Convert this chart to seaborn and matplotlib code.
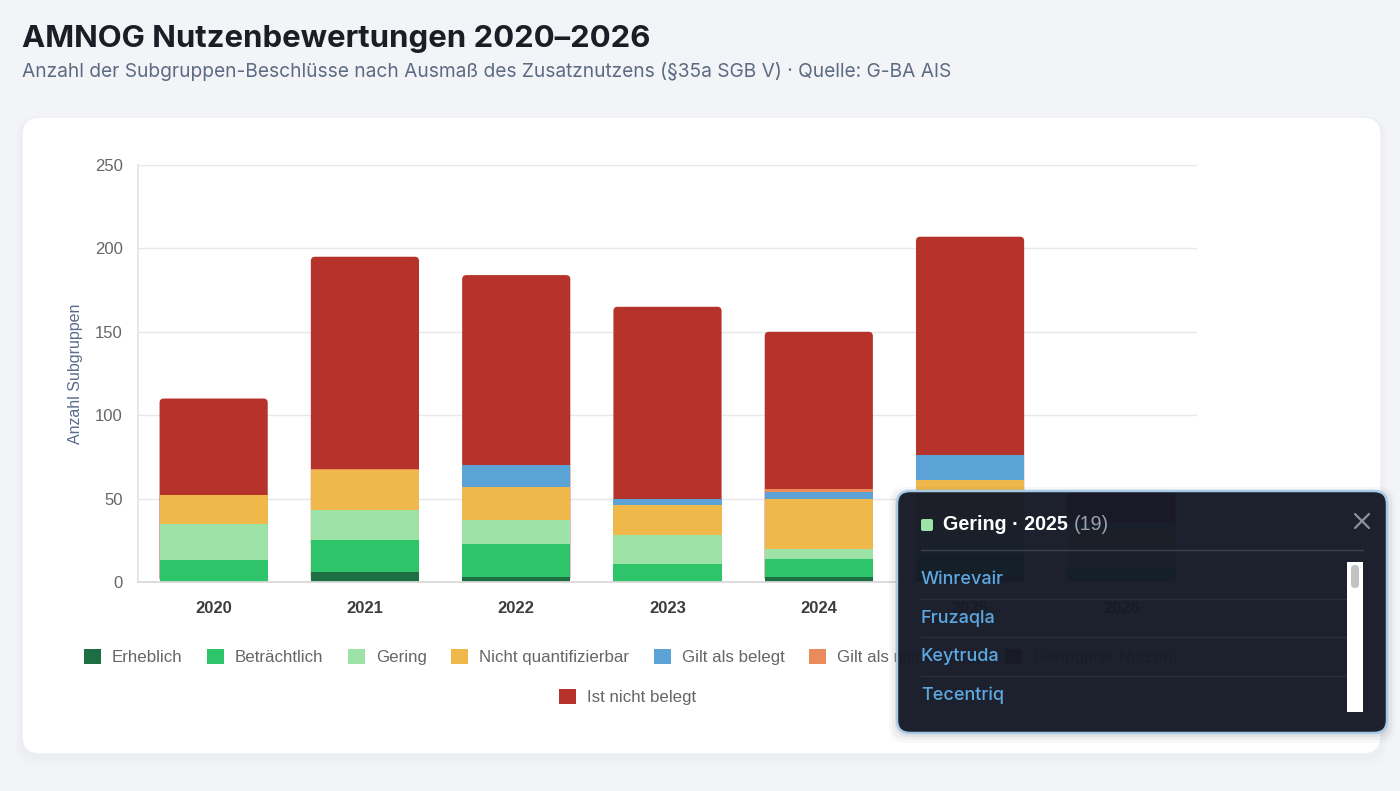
import matplotlib
matplotlib.use('Agg')
import pandas as pd
import matplotlib.pyplot as plt
import seaborn as sns
from matplotlib.patches import FancyBboxPatch, Patch, Rectangle
from matplotlib.lines import Line2D
from matplotlib.transforms import IdentityTransform

# Daten
jahre = ['2020', '2021', '2022', '2023', '2024', '2025', '2026']
erheblich = [0, 6, 3, 0, 3, 3, 0]
betraechtlich = [13, 19, 20, 11, 11, 14, 8]
gering = [22, 18, 14, 17, 6, 19, 10]
nicht_quant = [17, 24, 20, 18, 30, 25, 14]
gilt_belegt = [0, 0, 13, 4, 4, 15, 4]
gilt_nicht_belegt = [0, 1, 0, 0, 2, 0, 0]
geringerer_nutzen = [0, 0, 0, 0, 0, 0, 0]
ist_nicht_belegt = [58, 127, 114, 115, 94, 131, 18]

kategorien = ['Erheblich', 'Beträchtlich', 'Gering', 'Nicht quantifizierbar',
              'Gilt als belegt', 'Gilt als nicht belegt', 'Geringerer Nutzen',
              'Ist nicht belegt']
farben = ['#1e6e44', '#2ec46a', '#9de3a8', '#eeb84a',
          '#5ba3d6', '#e98b5b', '#7a1f1a', '#b6332b']

tooltip_titel = 'Gering · 2025'
tooltip_anzahl = '(19)'
tooltip_liste = ['Winrevair', 'Fruzaqla', 'Keytruda', 'Tecentriq']

W, H = 1400, 791

sns.set_theme(style='white')
plt.rcParams['font.family'] = ['Liberation Sans', 'DejaVu Sans']

df = pd.DataFrame({'Jahr': jahre})
serien = [erheblich, betraechtlich, gering, nicht_quant, gilt_belegt,
          gilt_nicht_belegt, geringerer_nutzen, ist_nicht_belegt]
summe = [0] * len(jahre)
for name, werte in zip(kategorien, serien):
    summe = [a + b for a, b in zip(summe, werte)]
    df[name] = summe

fig = plt.figure(figsize=(W / 100, H / 100), dpi=100)
fig.patch.set_facecolor('#f3f4f7')
T = IdentityTransform()


def box(x0, y0, x1, y1, r, **kw):
    # Pixelkoordinaten, Ursprung oben links
    p = FancyBboxPatch((x0, H - y1), x1 - x0, y1 - y0,
                       boxstyle=f'round,pad=0,rounding_size={r}',
                       transform=T, **kw)
    fig.add_artist(p)
    return p


def txt(x, y, s, **kw):
    return fig.text(x, H - y, s, transform=T, **kw)


# Karte mit Schatten
for i, a in enumerate([0.025, 0.02, 0.015]):
    box(22 - 2 - i * 2, 117 + 2 - i, 1381 + 2 + i * 2, 754 + 6 + i * 3, 18 + i,
        facecolor='#9aa3b5', edgecolor='none', alpha=a, zorder=-3)
box(22, 117, 1381, 754, 18, facecolor='white', edgecolor='#eceef2',
    linewidth=1, zorder=-2)

# Titel
txt(22, 47, 'AMNOG Nutzenbewertungen 2020–2026', fontsize=22.4,
    fontweight='bold', color='#1b1e26', family=['Inter', 'DejaVu Sans'],
    va='baseline')
txt(22, 77, 'Anzahl der Subgruppen-Beschlüsse nach Ausmaß des Zusatznutzens '
    '(§35a SGB V) · Quelle: G-BA AIS', fontsize=13.8, color='#5d6b82',
    family=['Inter', 'DejaVu Sans'], va='baseline')

# Diagramm
ax = fig.add_axes([138 / W, 1 - 582 / H, (1197 - 138) / W, (582 - 165) / H])
ax.set_facecolor('none')
ax.set_xlim(-0.5, 6.5)
ax.set_ylim(0, 250)
erste = True
for name, farbe in reversed(list(zip(kategorien, farben))):
    sns.barplot(data=df, x='Jahr', y=name, color=farbe, saturation=1,
                width=0.715, errorbar=None, linewidth=0, ax=ax)
    if erste:
        # obere Ecken der Gesamtsäule leicht abrunden
        asp = (250 / 417) / (7 / 1059)
        for p in list(ax.patches):
            x, y, w, h = p.get_x(), p.get_y(), p.get_width(), p.get_height()
            p.remove()
            ax.add_patch(FancyBboxPatch(
                (x, y), w, h, boxstyle='round,pad=0,rounding_size=0.028',
                mutation_aspect=asp, facecolor=farbe, edgecolor='none',
                linewidth=0))
        erste = False

ax.set_xlim(-0.5, 6.5)
ax.set_ylim(0, 250)
ax.set_yticks(range(0, 251, 50))
ax.yaxis.grid(True, color='#e8e8e8', linewidth=1)
ax.set_axisbelow(True)
for s in ['top', 'right']:
    ax.spines[s].set_visible(False)
ax.spines['left'].set_color('#e3e3e3')
ax.spines['bottom'].set_color('#d8d8d8')
ax.tick_params(axis='y', length=7, color='#e8e8e8', labelcolor='#666666',
               labelsize=12, pad=4)
ax.tick_params(axis='x', length=0, labelcolor='#3d3d3d', labelsize=12, pad=14)
for lab in ax.get_xticklabels():
    lab.set_fontweight('bold')
ax.set_xlabel('')
ax.set_ylabel('Anzahl Subgruppen', color='#5b6b8c', fontsize=11.5)
ax.yaxis.set_label_coords(-0.052, 0.5)

# Legende (zwei Zeilen, zentriert)
handles = [Patch(facecolor=f, edgecolor='none') for f in farben]
opts = dict(frameon=False, fontsize=12.2, labelcolor='#666666',
            handlelength=1.0, handleheight=1.0, handletextpad=0.65,
            columnspacing=1.45, loc='center', borderaxespad=0)
fig.legend(handles[:7], kategorien[:7], ncol=7,
           bbox_to_anchor=(628 / W, 1 - 657 / H), **opts)
fig.legend(handles[7:], kategorien[7:], ncol=1,
           bbox_to_anchor=(628 / W, 1 - 697 / H), **opts)

# Tooltip
for i, a in enumerate([0.06, 0.04, 0.03]):
    box(897 - 2 - i * 3, 491 - i * 2, 1387 + 2 + i * 3, 733 + 4 + i * 3, 14 + i,
        facecolor='#1b2434', edgecolor='none', alpha=a, zorder=9)
box(897, 491, 1387, 733, 13, facecolor='#151a26', edgecolor='#a9cdea',
    linewidth=1.8, alpha=0.965, zorder=10)
box(921, 519, 933, 531, 2, facecolor=farben[2], edgecolor='none', zorder=11)
kopf = txt(943, 525, tooltip_titel, fontsize=14.2, fontweight='bold',
           color='white', va='center', zorder=11)
fig.canvas.draw()
ende = kopf.get_window_extent(fig.canvas.get_renderer()).x1
txt(ende + 6, 525, tooltip_anzahl, fontsize=14.2, color='#9aa1ad', va='center',
    zorder=11)
for (xa, ya, xb, yb) in [(1355, 514, 1369, 528), (1355, 528, 1369, 514)]:
    fig.add_artist(Line2D([xa, xb], [H - ya, H - yb], transform=T,
                          color='#8d929c', linewidth=1.6, zorder=11))
fig.add_artist(Line2D([921, 1363], [H - 550, H - 550], transform=T,
                      color='#3a4150', linewidth=1, zorder=11))
for i, name in enumerate(tooltip_liste):
    yc = 580 + i * 38.4
    txt(921, yc, name, fontsize=13, fontweight='medium', color='#5ea8e2',
        va='center', zorder=11, family=['Inter', 'DejaVu Sans'])
    if i < len(tooltip_liste) - 1:
        fig.add_artist(Line2D([921, 1346], [H - (yc + 19), H - (yc + 19)],
                              transform=T, color='#283040', linewidth=1,
                              zorder=11))
fig.add_artist(Rectangle((1347, H - 712), 16, 150, transform=T,
                         facecolor='white', edgecolor='none', zorder=11))
box(1351, 565, 1359, 588, 4, facecolor='#c2c2c2', edgecolor='none', zorder=12)

fig.savefig('out.png', dpi=100, facecolor=fig.get_facecolor())
